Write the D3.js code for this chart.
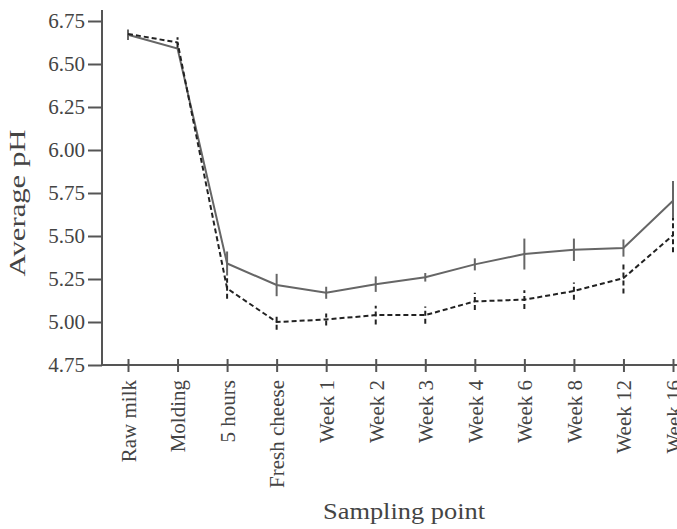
<!DOCTYPE html>
<html>
<head>
<meta charset="utf-8">
<script src="https://cdn.jsdelivr.net/npm/d3@7"></script>
<style>
  body { margin: 0; background: #fff; }
  svg { display: block; font-family: "Liberation Serif", "Times New Roman", serif; }
  .axis text { font-family: "Liberation Serif", "Times New Roman", serif; font-size: 21px; fill: #444; }
  .axis line, .axis-line { stroke: #555; stroke-width: 2; }
</style>
</head>
<body>
<script>
//==============================================================================
// DATA
//==============================================================================

const categories = ['Raw milk', 'Molding', '5 hours', 'Fresh cheese', 'Week 1', 'Week 2',
  'Week 3', 'Week 4', 'Week 6', 'Week 8', 'Week 12', 'Week 16'];

// solid series: mean pH and error half-width
const solidValues = [6.67, 6.59, 5.34, 5.215, 5.17, 5.22, 5.26, 5.335, 5.395, 5.42, 5.43, 5.705];
const solidErrors = [0.03, 0.0, 0.07, 0.065, 0.035, 0.045, 0.025, 0.035, 0.09, 0.065, 0.05, 0.115];

// dashed series
const dashedValues = [6.675, 6.625, 5.195, 5.0, 5.015, 5.04, 5.04, 5.12, 5.13, 5.18, 5.255, 5.505];
const dashedErrors = [0.0, 0.03, 0.06, 0.045, 0.035, 0.055, 0.05, 0.05, 0.055, 0.05, 0.09, 0.1];

const yTicks = [4.75, 5.00, 5.25, 5.50, 5.75, 6.00, 6.25, 6.50, 6.75];

//==============================================================================
// PARAMETERS
//==============================================================================

const W = 677, H = 529;
const axisX = 102, axisY = 365;

const x = d3.scalePoint().domain(categories).range([128, 673]);
const y = d3.scaleLinear().domain([4.75, 6.75]).range([365, 21]);

const svg = d3.select('body').append('svg')
  .attr('width', W)
  .attr('height', H);

//==============================================================================
// AXES
//==============================================================================

// y axis
const yAxis = svg.append('g')
  .attr('class', 'axis')
  .attr('transform', `translate(${axisX},0)`)
  .call(d3.axisLeft(y).tickValues(yTicks).tickFormat(d3.format('.2f')).tickSize(14).tickPadding(3));
yAxis.select('.domain').remove();

// x axis
const xAxis = svg.append('g')
  .attr('class', 'axis')
  .attr('transform', `translate(0,${axisY})`)
  .call(d3.axisBottom(x).tickSize(7));
xAxis.select('.domain').remove();
xAxis.selectAll('.tick line').attr('y1', -6).attr('y2', 7);
xAxis.selectAll('.tick text')
  .attr('transform', 'rotate(-90)')
  .attr('text-anchor', 'end')
  .attr('x', -15)
  .attr('y', 0)
  .attr('dy', '0.35em');

// axis lines
svg.append('line').attr('class', 'axis-line')
  .attr('x1', axisX).attr('x2', axisX).attr('y1', 10).attr('y2', axisY);
svg.append('line').attr('class', 'axis-line')
  .attr('x1', axisX).attr('x2', W).attr('y1', axisY).attr('y2', axisY);

// axis titles
svg.append('text')
  .attr('x', 404)
  .attr('y', 519)
  .attr('text-anchor', 'middle')
  .attr('font-size', 23)
  .attr('fill', '#444')
  .attr('textLength', 162)
  .attr('lengthAdjust', 'spacingAndGlyphs')
  .text('Sampling point');

svg.append('text')
  .attr('transform', 'translate(25,203) rotate(-90)')
  .attr('text-anchor', 'middle')
  .attr('font-size', 23)
  .attr('fill', '#444')
  .attr('textLength', 147)
  .attr('lengthAdjust', 'spacingAndGlyphs')
  .text('Average pH');

//==============================================================================
// SERIES
//==============================================================================

const series = [
  { values: solidValues, errors: solidErrors, color: '#666', dash: null },
  { values: dashedValues, errors: dashedErrors, color: '#222', dash: '5,3' }
];

const line = d3.line()
  .x((d, i) => x(categories[i]))
  .y(d => y(d));

series.forEach(s => {
  const g = svg.append('g');

  // error bars
  g.selectAll('.err')
    .data(s.values)
    .enter()
    .append('line')
    .attr('class', 'err')
    .attr('x1', (d, i) => x(categories[i]))
    .attr('x2', (d, i) => x(categories[i]))
    .attr('y1', (d, i) => y(d - s.errors[i]))
    .attr('y2', (d, i) => y(d + s.errors[i]))
    .attr('stroke', s.color)
    .attr('stroke-width', 2)
    .attr('stroke-dasharray', s.dash);

  // line
  g.append('path')
    .datum(s.values)
    .attr('d', line)
    .attr('fill', 'none')
    .attr('stroke', s.color)
    .attr('stroke-width', 2)
    .attr('stroke-dasharray', s.dash);
});
</script>
</body>
</html>
